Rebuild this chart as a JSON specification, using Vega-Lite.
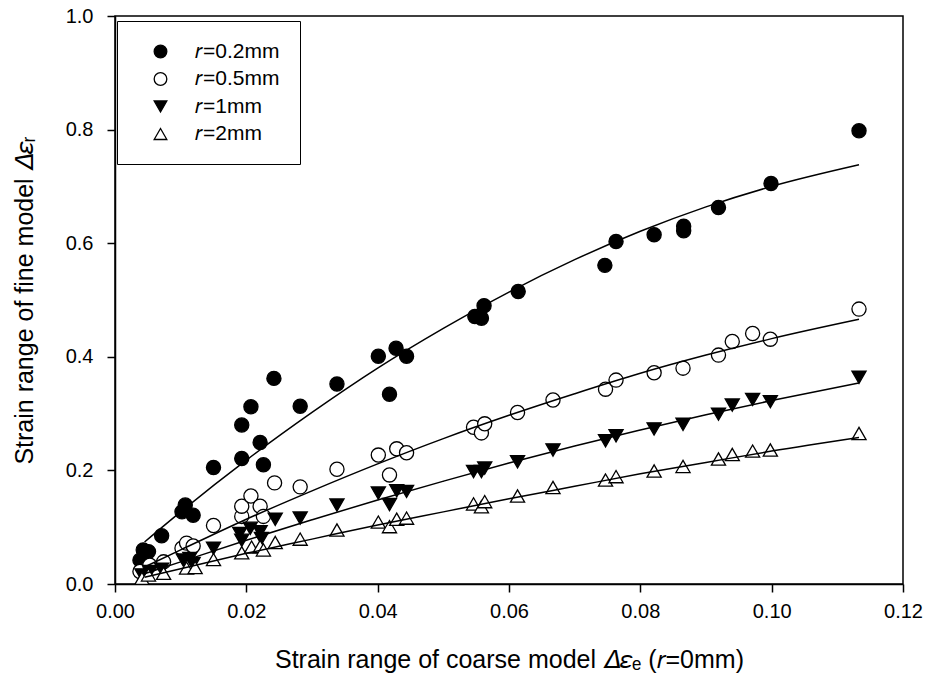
{
  "$schema": "https://vega.github.io/schema/vega-lite/v6.json",
  "width": 788,
  "height": 568,
  "autosize": {"type": "none"},
  "padding": {"left": 115, "top": 16, "right": 27, "bottom": 102},
  "background": "white",
  "config": {
    "font": "Liberation Sans",
    "view": {"stroke": "black", "strokeWidth": 1.5},
    "axis": {
      "grid": false,
      "domainColor": "black",
      "domainWidth": 1.5,
      "tickColor": "black",
      "tickWidth": 1.5,
      "tickSize": 8,
      "labelFlush": false,
      "labelFont": "Liberation Sans",
      "labelFontSize": 20,
      "labelColor": "black",
      "titleFont": "Liberation Sans",
      "titleFontSize": 25,
      "titleFontWeight": "normal",
      "titleColor": "black"
    },
    "legend": {
      "title": null,
      "orient": "none",
      "legendX": 2,
      "legendY": 5,
      "strokeColor": "black",
      "fillColor": "white",
      "padding": 20,
      "symbolOffset": 13,
      "symbolSize": 160,
      "symbolStrokeWidth": 1.3,
      "labelFont": "Liberation Sans",
      "labelFontSize": 21,
      "labelColor": "black",
      "labelOffset": 24,
      "rowPadding": 5.5
    }
  },
  "datasets": {
    "pts": [
      {"r": "𝑟=0.2mm", "x": 0.0038, "y": 0.042},
      {"r": "𝑟=0.2mm", "x": 0.0043, "y": 0.060},
      {"r": "𝑟=0.2mm", "x": 0.0051, "y": 0.057},
      {"r": "𝑟=0.2mm", "x": 0.0071, "y": 0.085},
      {"r": "𝑟=0.2mm", "x": 0.0107, "y": 0.139},
      {"r": "𝑟=0.2mm", "x": 0.0102, "y": 0.127},
      {"r": "𝑟=0.2mm", "x": 0.0119, "y": 0.121},
      {"r": "𝑟=0.2mm", "x": 0.0150, "y": 0.205},
      {"r": "𝑟=0.2mm", "x": 0.0193, "y": 0.221},
      {"r": "𝑟=0.2mm", "x": 0.0193, "y": 0.280},
      {"r": "𝑟=0.2mm", "x": 0.0207, "y": 0.312},
      {"r": "𝑟=0.2mm", "x": 0.0221, "y": 0.249},
      {"r": "𝑟=0.2mm", "x": 0.0226, "y": 0.210},
      {"r": "𝑟=0.2mm", "x": 0.0242, "y": 0.362},
      {"r": "𝑟=0.2mm", "x": 0.0282, "y": 0.313},
      {"r": "𝑟=0.2mm", "x": 0.0338, "y": 0.352},
      {"r": "𝑟=0.2mm", "x": 0.0401, "y": 0.401},
      {"r": "𝑟=0.2mm", "x": 0.0428, "y": 0.415},
      {"r": "𝑟=0.2mm", "x": 0.0444, "y": 0.401},
      {"r": "𝑟=0.2mm", "x": 0.0418, "y": 0.334},
      {"r": "𝑟=0.2mm", "x": 0.0548, "y": 0.471},
      {"r": "𝑟=0.2mm", "x": 0.0558, "y": 0.468},
      {"r": "𝑟=0.2mm", "x": 0.0562, "y": 0.490},
      {"r": "𝑟=0.2mm", "x": 0.0614, "y": 0.515},
      {"r": "𝑟=0.2mm", "x": 0.0746, "y": 0.561},
      {"r": "𝑟=0.2mm", "x": 0.0763, "y": 0.603},
      {"r": "𝑟=0.2mm", "x": 0.0821, "y": 0.615},
      {"r": "𝑟=0.2mm", "x": 0.0866, "y": 0.622},
      {"r": "𝑟=0.2mm", "x": 0.0866, "y": 0.630},
      {"r": "𝑟=0.2mm", "x": 0.0919, "y": 0.663},
      {"r": "𝑟=0.2mm", "x": 0.0999, "y": 0.705},
      {"r": "𝑟=0.2mm", "x": 0.1133, "y": 0.798},

      {"r": "𝑟=0.5mm", "x": 0.0038, "y": 0.022},
      {"r": "𝑟=0.5mm", "x": 0.0053, "y": 0.033},
      {"r": "𝑟=0.5mm", "x": 0.0074, "y": 0.039},
      {"r": "𝑟=0.5mm", "x": 0.0102, "y": 0.063},
      {"r": "𝑟=0.5mm", "x": 0.0109, "y": 0.072},
      {"r": "𝑟=0.5mm", "x": 0.0119, "y": 0.067},
      {"r": "𝑟=0.5mm", "x": 0.0150, "y": 0.103},
      {"r": "𝑟=0.5mm", "x": 0.0193, "y": 0.119},
      {"r": "𝑟=0.5mm", "x": 0.0193, "y": 0.137},
      {"r": "𝑟=0.5mm", "x": 0.0207, "y": 0.155},
      {"r": "𝑟=0.5mm", "x": 0.0221, "y": 0.137},
      {"r": "𝑟=0.5mm", "x": 0.0226, "y": 0.119},
      {"r": "𝑟=0.5mm", "x": 0.0243, "y": 0.178},
      {"r": "𝑟=0.5mm", "x": 0.0282, "y": 0.171},
      {"r": "𝑟=0.5mm", "x": 0.0338, "y": 0.202},
      {"r": "𝑟=0.5mm", "x": 0.0401, "y": 0.227},
      {"r": "𝑟=0.5mm", "x": 0.0418, "y": 0.192},
      {"r": "𝑟=0.5mm", "x": 0.0429, "y": 0.238},
      {"r": "𝑟=0.5mm", "x": 0.0444, "y": 0.231},
      {"r": "𝑟=0.5mm", "x": 0.0546, "y": 0.276},
      {"r": "𝑟=0.5mm", "x": 0.0558, "y": 0.266},
      {"r": "𝑟=0.5mm", "x": 0.0563, "y": 0.282},
      {"r": "𝑟=0.5mm", "x": 0.0613, "y": 0.302},
      {"r": "𝑟=0.5mm", "x": 0.0667, "y": 0.324},
      {"r": "𝑟=0.5mm", "x": 0.0747, "y": 0.343},
      {"r": "𝑟=0.5mm", "x": 0.0763, "y": 0.359},
      {"r": "𝑟=0.5mm", "x": 0.0821, "y": 0.372},
      {"r": "𝑟=0.5mm", "x": 0.0865, "y": 0.380},
      {"r": "𝑟=0.5mm", "x": 0.0919, "y": 0.403},
      {"r": "𝑟=0.5mm", "x": 0.0940, "y": 0.427},
      {"r": "𝑟=0.5mm", "x": 0.0971, "y": 0.441},
      {"r": "𝑟=0.5mm", "x": 0.0998, "y": 0.431},
      {"r": "𝑟=0.5mm", "x": 0.1133, "y": 0.484},

      {"r": "𝑟=1mm", "x": 0.0041, "y": 0.016},
      {"r": "𝑟=1mm", "x": 0.0053, "y": 0.022},
      {"r": "𝑟=1mm", "x": 0.0071, "y": 0.026},
      {"r": "𝑟=1mm", "x": 0.0104, "y": 0.042},
      {"r": "𝑟=1mm", "x": 0.0114, "y": 0.045},
      {"r": "𝑟=1mm", "x": 0.0119, "y": 0.036},
      {"r": "𝑟=1mm", "x": 0.0150, "y": 0.063},
      {"r": "𝑟=1mm", "x": 0.0190, "y": 0.089},
      {"r": "𝑟=1mm", "x": 0.0193, "y": 0.077},
      {"r": "𝑟=1mm", "x": 0.0206, "y": 0.098},
      {"r": "𝑟=1mm", "x": 0.0221, "y": 0.092},
      {"r": "𝑟=1mm", "x": 0.0223, "y": 0.080},
      {"r": "𝑟=1mm", "x": 0.0244, "y": 0.114},
      {"r": "𝑟=1mm", "x": 0.0282, "y": 0.116},
      {"r": "𝑟=1mm", "x": 0.0338, "y": 0.139},
      {"r": "𝑟=1mm", "x": 0.0401, "y": 0.160},
      {"r": "𝑟=1mm", "x": 0.0418, "y": 0.140},
      {"r": "𝑟=1mm", "x": 0.0429, "y": 0.164},
      {"r": "𝑟=1mm", "x": 0.0444, "y": 0.163},
      {"r": "𝑟=1mm", "x": 0.0546, "y": 0.198},
      {"r": "𝑟=1mm", "x": 0.0558, "y": 0.198},
      {"r": "𝑟=1mm", "x": 0.0563, "y": 0.204},
      {"r": "𝑟=1mm", "x": 0.0613, "y": 0.215},
      {"r": "𝑟=1mm", "x": 0.0667, "y": 0.236},
      {"r": "𝑟=1mm", "x": 0.0747, "y": 0.252},
      {"r": "𝑟=1mm", "x": 0.0763, "y": 0.261},
      {"r": "𝑟=1mm", "x": 0.0821, "y": 0.273},
      {"r": "𝑟=1mm", "x": 0.0865, "y": 0.281},
      {"r": "𝑟=1mm", "x": 0.0919, "y": 0.299},
      {"r": "𝑟=1mm", "x": 0.0940, "y": 0.315},
      {"r": "𝑟=1mm", "x": 0.0971, "y": 0.325},
      {"r": "𝑟=1mm", "x": 0.0998, "y": 0.321},
      {"r": "𝑟=1mm", "x": 0.1133, "y": 0.364},

      {"r": "𝑟=2mm", "x": 0.0041, "y": 0.010},
      {"r": "𝑟=2mm", "x": 0.0051, "y": 0.016},
      {"r": "𝑟=2mm", "x": 0.0074, "y": 0.019},
      {"r": "𝑟=2mm", "x": 0.0109, "y": 0.028},
      {"r": "𝑟=2mm", "x": 0.0122, "y": 0.029},
      {"r": "𝑟=2mm", "x": 0.0150, "y": 0.043},
      {"r": "𝑟=2mm", "x": 0.0193, "y": 0.055},
      {"r": "𝑟=2mm", "x": 0.0208, "y": 0.065},
      {"r": "𝑟=2mm", "x": 0.0221, "y": 0.066},
      {"r": "𝑟=2mm", "x": 0.0226, "y": 0.060},
      {"r": "𝑟=2mm", "x": 0.0244, "y": 0.073},
      {"r": "𝑟=2mm", "x": 0.0282, "y": 0.079},
      {"r": "𝑟=2mm", "x": 0.0338, "y": 0.095},
      {"r": "𝑟=2mm", "x": 0.0401, "y": 0.109},
      {"r": "𝑟=2mm", "x": 0.0418, "y": 0.101},
      {"r": "𝑟=2mm", "x": 0.0429, "y": 0.114},
      {"r": "𝑟=2mm", "x": 0.0444, "y": 0.116},
      {"r": "𝑟=2mm", "x": 0.0546, "y": 0.141},
      {"r": "𝑟=2mm", "x": 0.0558, "y": 0.136},
      {"r": "𝑟=2mm", "x": 0.0563, "y": 0.145},
      {"r": "𝑟=2mm", "x": 0.0613, "y": 0.155},
      {"r": "𝑟=2mm", "x": 0.0667, "y": 0.170},
      {"r": "𝑟=2mm", "x": 0.0747, "y": 0.183},
      {"r": "𝑟=2mm", "x": 0.0763, "y": 0.189},
      {"r": "𝑟=2mm", "x": 0.0821, "y": 0.199},
      {"r": "𝑟=2mm", "x": 0.0865, "y": 0.207},
      {"r": "𝑟=2mm", "x": 0.0919, "y": 0.220},
      {"r": "𝑟=2mm", "x": 0.0940, "y": 0.228},
      {"r": "𝑟=2mm", "x": 0.0971, "y": 0.234},
      {"r": "𝑟=2mm", "x": 0.0998, "y": 0.236},
      {"r": "𝑟=2mm", "x": 0.1133, "y": 0.265}
    ],
    "fit": [
      {"r": "𝑟=0.2mm", "x": 0.0045, "y": 0.074},
      {"r": "𝑟=0.2mm", "x": 0.01, "y": 0.127},
      {"r": "𝑟=0.2mm", "x": 0.02, "y": 0.218},
      {"r": "𝑟=0.2mm", "x": 0.03, "y": 0.302},
      {"r": "𝑟=0.2mm", "x": 0.04, "y": 0.380},
      {"r": "𝑟=0.2mm", "x": 0.05, "y": 0.450},
      {"r": "𝑟=0.2mm", "x": 0.06, "y": 0.514},
      {"r": "𝑟=0.2mm", "x": 0.07, "y": 0.571},
      {"r": "𝑟=0.2mm", "x": 0.08, "y": 0.621},
      {"r": "𝑟=0.2mm", "x": 0.09, "y": 0.664},
      {"r": "𝑟=0.2mm", "x": 0.10, "y": 0.700},
      {"r": "𝑟=0.2mm", "x": 0.1133, "y": 0.738},

      {"r": "𝑟=0.5mm", "x": 0.0045, "y": 0.030},
      {"r": "𝑟=0.5mm", "x": 0.01, "y": 0.060},
      {"r": "𝑟=0.5mm", "x": 0.02, "y": 0.114},
      {"r": "𝑟=0.5mm", "x": 0.03, "y": 0.164},
      {"r": "𝑟=0.5mm", "x": 0.04, "y": 0.2115},
      {"r": "𝑟=0.5mm", "x": 0.05, "y": 0.256},
      {"r": "𝑟=0.5mm", "x": 0.06, "y": 0.297},
      {"r": "𝑟=0.5mm", "x": 0.07, "y": 0.335},
      {"r": "𝑟=0.5mm", "x": 0.08, "y": 0.371},
      {"r": "𝑟=0.5mm", "x": 0.09, "y": 0.403},
      {"r": "𝑟=0.5mm", "x": 0.10, "y": 0.432},
      {"r": "𝑟=0.5mm", "x": 0.1133, "y": 0.466},

      {"r": "𝑟=1mm", "x": 0.0045, "y": 0.018},
      {"r": "𝑟=1mm", "x": 0.01, "y": 0.039},
      {"r": "𝑟=1mm", "x": 0.02, "y": 0.077},
      {"r": "𝑟=1mm", "x": 0.03, "y": 0.113},
      {"r": "𝑟=1mm", "x": 0.04, "y": 0.148},
      {"r": "𝑟=1mm", "x": 0.05, "y": 0.181},
      {"r": "𝑟=1mm", "x": 0.06, "y": 0.213},
      {"r": "𝑟=1mm", "x": 0.07, "y": 0.243},
      {"r": "𝑟=1mm", "x": 0.08, "y": 0.271},
      {"r": "𝑟=1mm", "x": 0.09, "y": 0.298},
      {"r": "𝑟=1mm", "x": 0.10, "y": 0.323},
      {"r": "𝑟=1mm", "x": 0.1133, "y": 0.354},

      {"r": "𝑟=2mm", "x": 0.0045, "y": 0.012},
      {"r": "𝑟=2mm", "x": 0.01, "y": 0.027},
      {"r": "𝑟=2mm", "x": 0.02, "y": 0.054},
      {"r": "𝑟=2mm", "x": 0.03, "y": 0.079},
      {"r": "𝑟=2mm", "x": 0.04, "y": 0.104},
      {"r": "𝑟=2mm", "x": 0.05, "y": 0.127},
      {"r": "𝑟=2mm", "x": 0.06, "y": 0.150},
      {"r": "𝑟=2mm", "x": 0.07, "y": 0.172},
      {"r": "𝑟=2mm", "x": 0.08, "y": 0.194},
      {"r": "𝑟=2mm", "x": 0.09, "y": 0.214},
      {"r": "𝑟=2mm", "x": 0.10, "y": 0.234},
      {"r": "𝑟=2mm", "x": 0.1133, "y": 0.258}
    ]
  },
  "encoding": {
    "x": {
      "field": "x",
      "type": "quantitative",
      "scale": {"domain": [0, 0.12], "nice": false, "zero": false},
      "axis": {
        "values": [0, 0.02, 0.04, 0.06, 0.08, 0.1, 0.12],
        "format": ".2f",
        "labelPadding": 9,
        "titlePadding": 26,
        "title": "Strain range of coarse model 𝛥𝜀ₑ (𝑟=0mm)"
      }
    },
    "y": {
      "field": "y",
      "type": "quantitative",
      "scale": {"domain": [0, 1], "nice": false},
      "axis": {
        "values": [0, 0.2, 0.4, 0.6, 0.8, 1.0],
        "format": ".1f",
        "labelPadding": 14,
        "titlePadding": 28,
        "title": "Strain range of fine model 𝛥𝜀ᵣ"
      }
    }
  },
  "layer": [
    {
      "data": {"name": "pts"},
      "mark": {"type": "point", "filled": false, "size": 200, "strokeWidth": 1.3, "opacity": 1},
      "encoding": {
        "shape": {
          "field": "r",
          "type": "nominal",
          "scale": {
            "domain": ["𝑟=0.2mm", "𝑟=0.5mm", "𝑟=1mm", "𝑟=2mm"],
            "range": ["circle", "circle", "triangle-down", "triangle-up"]
          }
        },
        "fill": {
          "field": "r",
          "type": "nominal",
          "scale": {
            "domain": ["𝑟=0.2mm", "𝑟=0.5mm", "𝑟=1mm", "𝑟=2mm"],
            "range": ["black", "white", "black", "white"]
          }
        },
        "stroke": {
          "field": "r",
          "type": "nominal",
          "scale": {
            "domain": ["𝑟=0.2mm", "𝑟=0.5mm", "𝑟=1mm", "𝑟=2mm"],
            "range": ["black", "black", "black", "black"]
          }
        }
      }
    },
    {
      "data": {"name": "fit"},
      "mark": {"type": "line", "color": "black", "strokeWidth": 1.5, "interpolate": "monotone"},
      "encoding": {"detail": {"field": "r", "type": "nominal"}}
    }
  ]
}
